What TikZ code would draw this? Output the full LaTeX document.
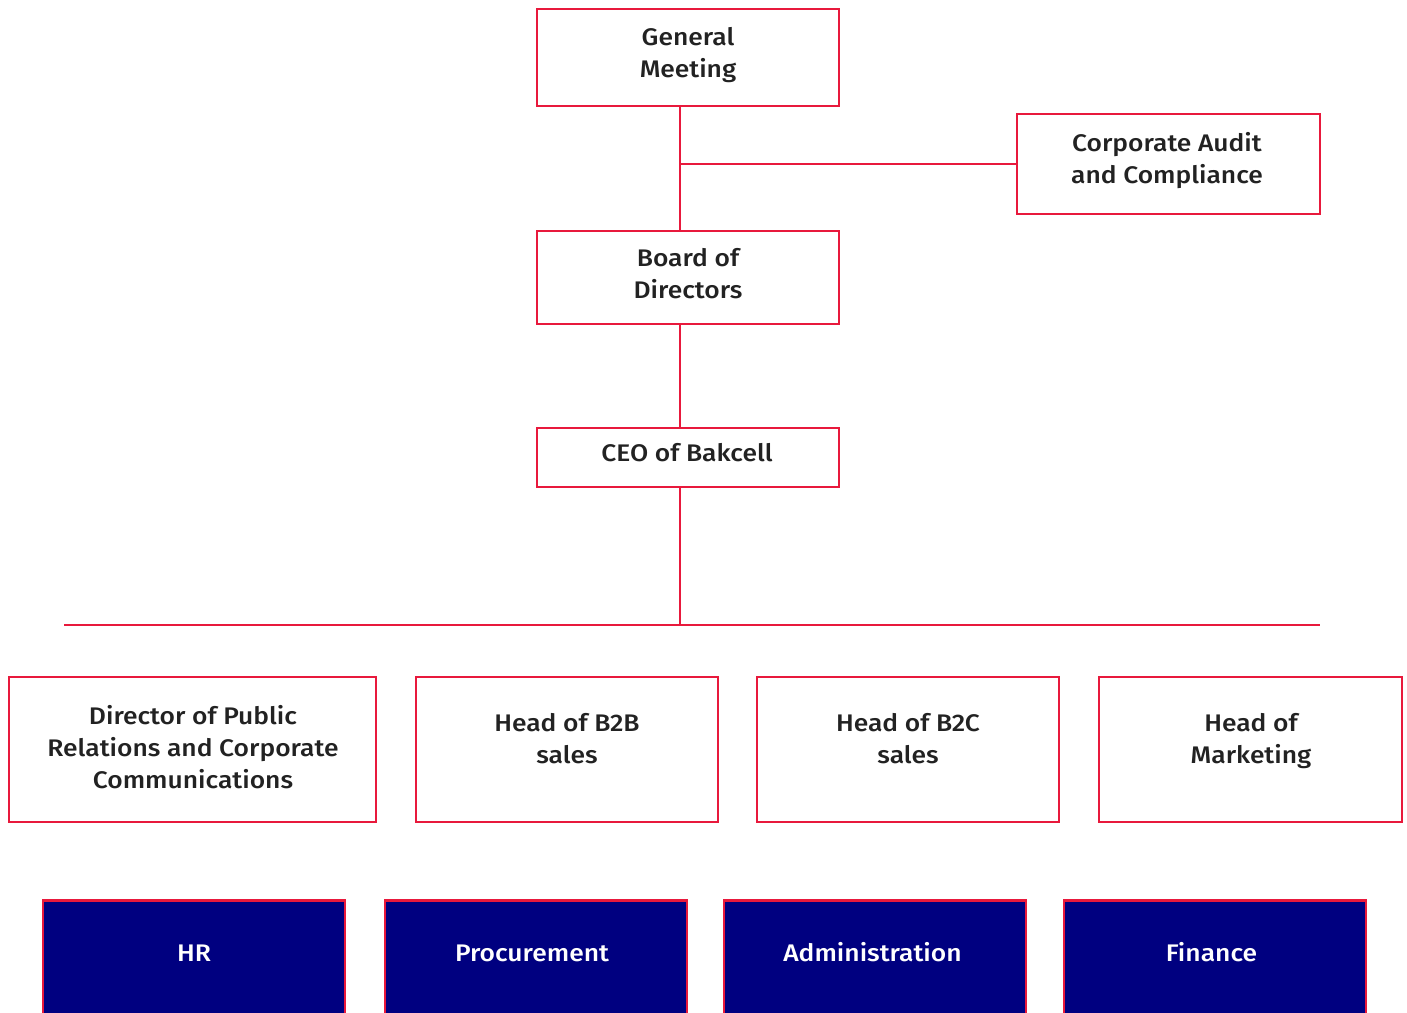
\documentclass[tikz,border=0pt]{standalone}
\usepackage{fontspec}
\setmainfont{Fira Sans}[UprightFont=* Medium, FakeStretch=1.1]
\definecolor{bkred}{HTML}{E8193C}
\definecolor{bknavy}{HTML}{000080}
\definecolor{bktext}{HTML}{222222}
\begin{document}
\begin{tikzpicture}[x=1pt,y=-1pt,
  box/.style={draw=bkred, line width=2.6pt, fill=white, inner sep=0pt},
  navybox/.style={draw=bkred, line width=2.6pt, fill=bknavy, inner sep=0pt,
    minimum width=302, minimum height=150, anchor=north},
  lbl/.style={text=bktext, align=center, inner sep=0pt,
    font=\fontsize{24}{32}\selectfont},
  wlbl/.style={lbl, text=white},
  link/.style={draw=bkred, line width=2.4pt}]
\newcommand{\lnstrut}{\strut}
\useasboundingbox (0,0) rectangle (1407,1012);
\clip (0,0) rectangle (1407,1012);
\fill[white] (0,0) rectangle (1407,1012);

\coordinate (spine) at (680,0);
\coordinate (barL) at (64,625);
\coordinate (barR) at (1320,625);

% boxes
\node[box, minimum width=302, minimum height=97] (gm) at (688,57.5) {};
\node[box, minimum width=303, minimum height=100] (audit) at (1168.5,164) {};
\node[box, minimum width=302, minimum height=93] (board) at (688,277.5) {};
\node[box, minimum width=302, minimum height=59] (ceo) at (688,457.5) {};

\node[box, minimum width=367, minimum height=145] (pr) at (192.5,749.5) {};
\node[box, minimum width=302, minimum height=145] (b2b) at (567,749.5) {};
\node[box, minimum width=302, minimum height=145] (b2c) at (908,749.5) {};
\node[box, minimum width=303, minimum height=145] (mkt) at (1250.5,749.5) {};

\node[navybox] (hr) at (194,899) {};
\node[navybox] (proc) at (536,899) {};
\node[navybox] (adm) at (875,899) {};
\node[navybox] (fin) at (1215,899) {};

% texts
\node[lbl] (gmt) at (688,55.4) {General\lnstrut\\Meeting\lnstrut};
\node[lbl] (auditt) at (1167,161.4) {Corporate Audit\lnstrut\\and Compliance\lnstrut};
\node[lbl] (boardt) at (688,276.4) {Board of\lnstrut\\Directors\lnstrut};
\node[lbl] (ceot) at (687,455.4) {CEO of Bakcell\lnstrut};
\node[lbl] (prt) at (193,750.4) {Director of Public\lnstrut\\Relations and Corporate\lnstrut\\Communications\lnstrut};
\node[lbl] (b2bt) at (567,741.4) {Head of B2B\lnstrut\\sales\lnstrut};
\node[lbl] (b2ct) at (908,741.4) {Head of B2C\lnstrut\\sales\lnstrut};
\node[lbl] (mktt) at (1251,741.4) {Head of\lnstrut\\Marketing\lnstrut};
\node[wlbl] (hrt) at (194,955.4) {HR\lnstrut};
\node[wlbl] (proct) at (532,955.4) {Procurement\lnstrut};
\node[wlbl] (admt) at (872.5,955.4) {Administration\lnstrut};
\node[wlbl] (fint) at (1211.5,955.4) {Finance\lnstrut};

% connectors
\coordinate (j1) at (spine |- audit.west);
\draw[link] (gm.south -| spine) -- (board.north -| spine);
\draw[link] (j1) -- (audit.west);
\draw[link] (board.south -| spine) -- (ceo.north -| spine);
\draw[link] (ceo.south -| spine) -- (spine |- barL);
\draw[link] (barL) -- (barR);
\end{tikzpicture}
\end{document}
